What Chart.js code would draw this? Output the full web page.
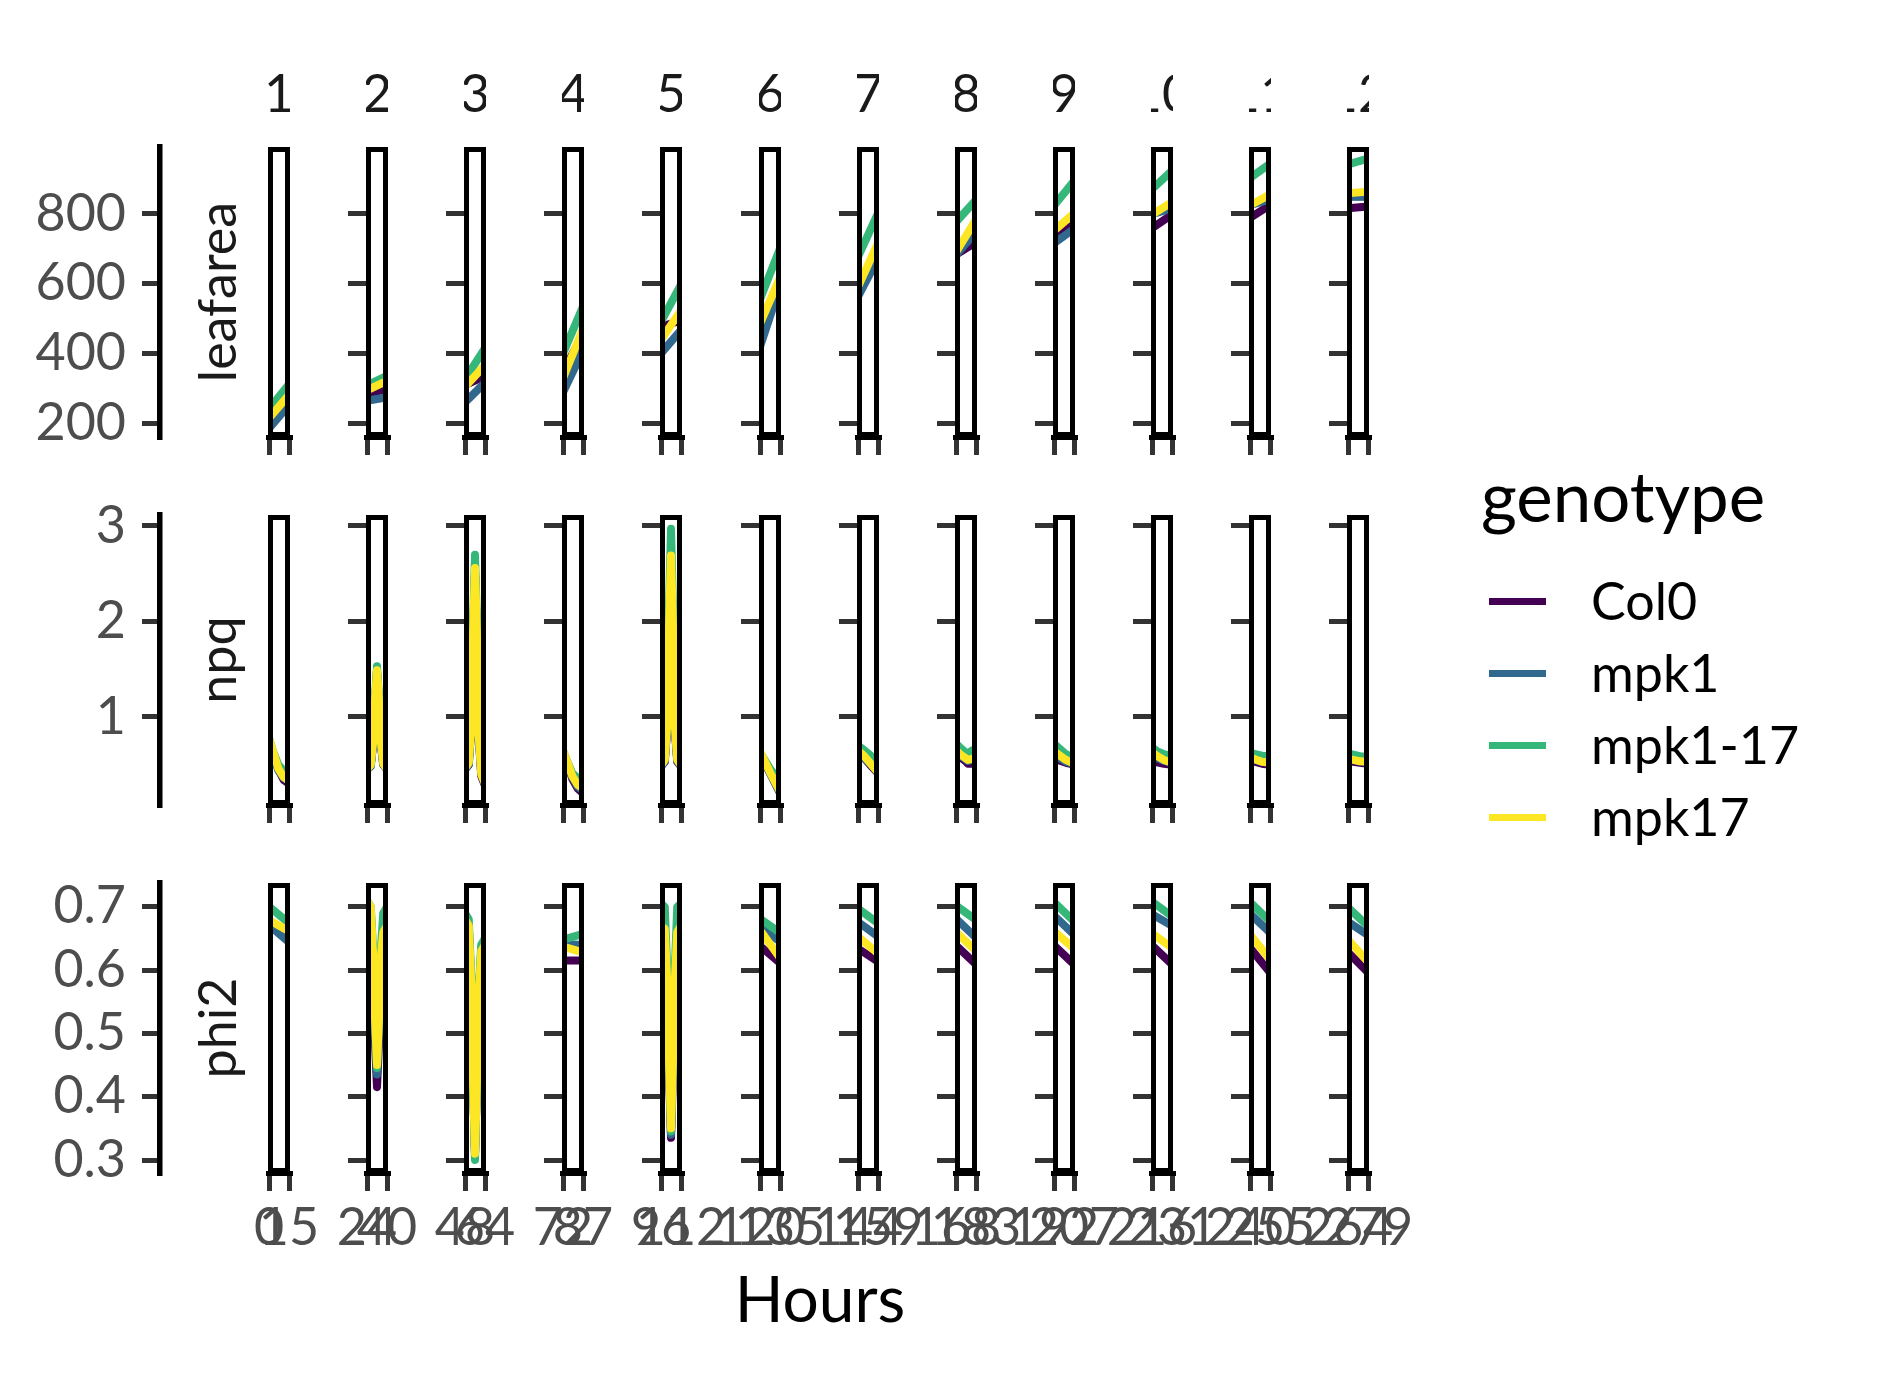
<!DOCTYPE html>
<html>
<head>
<meta charset="utf-8">
<title>leafarea / npq / phi2 by genotype</title>
<script src="https://cdn.jsdelivr.net/npm/chart.js@4.4.1/dist/chart.umd.min.js"></script>
<style>
  html, body { margin: 0; padding: 0; background: #ffffff; }
  #page { position: relative; width: 1881px; height: 1375px; overflow: hidden; font-family: Lato, sans-serif; }
  #page canvas { position: absolute; }
  .txt { position: absolute; white-space: nowrap; line-height: 1; }
  .strip { display: flex; justify-content: center; overflow: hidden; height: 52px; font-size: 52px; color: #1a1a1a; }
  .rowlab { width: 400px; height: 52px; font-size: 52px; text-align: center; color: #1a1a1a; transform: rotate(-90deg); }
  .key { position: absolute; width: 57px; height: 7px; }
</style>
</head>
<body>
<div id="page"></div>
<script>
const GENOTYPES = ['Col0', 'mpk1', 'mpk1-17', 'mpk17'];
const GENO_COLORS = ['#440154', '#31688E', '#35B779', '#FDE725'];
const DAYS = ['1', '2', '3', '4', '5', '6', '7', '8', '9', '10', '11', '12'];
const HOURS_START = [0, 24, 48, 72, 96, 120, 144, 168, 192, 216, 240, 264];
const HOURS_END = [15, 40, 64, 87, 112, 135, 159, 183, 207, 231, 255, 279];

const LEAFAREA_TICKS = [200, 400, 600, 800];
const NPQ_TICKS = [1, 2, 3];
const PHI2_TICKS = [0.3, 0.4, 0.5, 0.6, 0.7];

// leafarea: value at first and last hour of each day
const leafareaCol0 = [[210, 277], [282, 299], [309, 335], [348, 454], [477, 494], [477, 583], [579, 682], [683, 719], [738, 770], [759, 798], [789, 825], [816, 821]];
const leafareaMpk1 = [[185, 252], [264, 274], [259, 316], [288, 408], [400, 467], [419, 592], [563, 673], [682, 749], [716, 757], [799, 816], [825, 842], [849, 849]];
const leafareaMpk117 = [[241, 311], [309, 335], [326, 415], [400, 534], [491, 597], [555, 701], [677, 802], [777, 840], [824, 894], [871, 924], [903, 944], [942, 959]];
const leafareaMpk17 = [[214, 281], [294, 321], [304, 366], [329, 470], [439, 523], [485, 618], [591, 716], [690, 784], [752, 802], [798, 834], [825, 856], [859, 864]];

// npq: measurement hours per day
const npqHours = [
  [0, 3, 7, 11, 15],
  [24, 27, 29, 30.5, 32, 33.5, 35, 37, 40],
  [48, 51, 53, 54.5, 56, 57.5, 59, 61, 64],
  [72, 75, 79, 83, 87],
  [96, 99, 101, 102.5, 104, 105.5, 107, 109, 112],
  [120, 127.5, 135],
  [144, 148, 153, 159],
  [168, 171, 175, 177, 180, 183],
  [192, 196, 201, 207],
  [216, 220, 225, 231],
  [240, 244, 249, 255],
  [264, 268, 273, 279]
];
const npqCol0 = [
  [0.76, 0.62, 0.45, 0.34, 0.30],
  [0.45, 0.50, 0.72, 1.15, 1.45, 1.15, 0.72, 0.50, 0.45],
  [0.45, 0.50, 0.88, 1.85, 2.50, 1.85, 0.78, 0.38, 0.28],
  [0.63, 0.52, 0.35, 0.25, 0.20],
  [0.48, 0.53, 0.88, 1.95, 2.60, 1.95, 0.88, 0.53, 0.48],
  [0.62, 0.41, 0.21],
  [0.64, 0.58, 0.50, 0.41],
  [0.63, 0.58, 0.54, 0.51, 0.51, 0.52],
  [0.57, 0.545, 0.52, 0.50],
  [0.55, 0.525, 0.51, 0.50],
  [0.55, 0.53, 0.51, 0.50],
  [0.54, 0.53, 0.52, 0.51]
];
const npqMpk1 = [
  [0.75, 0.60, 0.44, 0.36, 0.33],
  [0.45, 0.48, 0.73, 1.17, 1.47, 1.17, 0.73, 0.50, 0.45],
  [0.45, 0.50, 0.88, 1.87, 2.53, 1.87, 0.80, 0.40, 0.30],
  [0.63, 0.52, 0.37, 0.27, 0.23],
  [0.48, 0.53, 0.90, 1.98, 2.64, 1.98, 0.90, 0.54, 0.48],
  [0.62, 0.41, 0.20],
  [0.64, 0.58, 0.51, 0.42],
  [0.64, 0.60, 0.56, 0.54, 0.55, 0.56],
  [0.60, 0.57, 0.53, 0.51],
  [0.60, 0.57, 0.54, 0.52],
  [0.57, 0.55, 0.53, 0.52],
  [0.56, 0.55, 0.535, 0.53]
];
const npqMpk117 = [
  [0.78, 0.64, 0.50, 0.44, 0.41],
  [0.46, 0.50, 0.78, 1.22, 1.53, 1.22, 0.78, 0.53, 0.47],
  [0.47, 0.54, 0.95, 2.00, 2.70, 2.00, 0.85, 0.44, 0.34],
  [0.65, 0.54, 0.41, 0.36, 0.34],
  [0.50, 0.58, 1.00, 2.20, 2.97, 2.20, 1.00, 0.58, 0.50],
  [0.63, 0.46, 0.32],
  [0.70, 0.66, 0.60, 0.53],
  [0.72, 0.68, 0.63, 0.62, 0.65, 0.66],
  [0.72, 0.67, 0.61, 0.57],
  [0.68, 0.64, 0.61, 0.59],
  [0.63, 0.61, 0.595, 0.585],
  [0.62, 0.605, 0.59, 0.58]
];
const npqMpk17 = [
  [0.78, 0.64, 0.46, 0.37, 0.33],
  [0.45, 0.50, 0.75, 1.20, 1.49, 1.20, 0.75, 0.51, 0.45],
  [0.46, 0.52, 0.90, 1.90, 2.56, 1.90, 0.80, 0.40, 0.30],
  [0.65, 0.54, 0.38, 0.29, 0.25],
  [0.49, 0.55, 0.92, 2.00, 2.69, 2.00, 0.92, 0.55, 0.49],
  [0.64, 0.42, 0.22],
  [0.65, 0.60, 0.52, 0.42],
  [0.65, 0.61, 0.57, 0.55, 0.56, 0.57],
  [0.64, 0.60, 0.55, 0.51],
  [0.63, 0.59, 0.55, 0.52],
  [0.58, 0.555, 0.53, 0.52],
  [0.56, 0.55, 0.535, 0.53]
];

// phi2: measurement hours per day
const phi2Hours = [
  [0, 15],
  [24, 27, 29, 30.5, 32, 33.5, 35, 37, 40],
  [48, 51, 53, 54.5, 56, 57.5, 59, 61, 64],
  [72, 87],
  [96, 99, 101, 102.5, 104, 105.5, 107, 109, 112],
  [120, 135], [144, 159], [168, 183], [192, 207], [216, 231], [240, 255], [264, 279]
];
const phi2Col0 = [
  [0.676, 0.658],
  [0.70, 0.69, 0.60, 0.48, 0.415, 0.48, 0.60, 0.64, 0.65],
  [0.67, 0.66, 0.57, 0.42, 0.31, 0.42, 0.55, 0.62, 0.63],
  [0.615, 0.615],
  [0.64, 0.63, 0.56, 0.43, 0.335, 0.43, 0.56, 0.63, 0.64],
  [0.638, 0.611], [0.634, 0.613], [0.639, 0.609], [0.639, 0.609], [0.639, 0.609], [0.635, 0.596], [0.628, 0.596]
];
const phi2Mpk1 = [
  [0.671, 0.644],
  [0.70, 0.69, 0.61, 0.50, 0.435, 0.50, 0.61, 0.66, 0.67],
  [0.68, 0.67, 0.58, 0.42, 0.305, 0.42, 0.56, 0.63, 0.64],
  [0.64, 0.64],
  [0.68, 0.67, 0.58, 0.45, 0.34, 0.45, 0.58, 0.67, 0.68],
  [0.667, 0.645], [0.676, 0.653], [0.681, 0.651], [0.686, 0.656], [0.688, 0.670], [0.689, 0.659], [0.676, 0.655]
];
const phi2Mpk117 = [
  [0.700, 0.674],
  [0.71, 0.70, 0.63, 0.53, 0.445, 0.53, 0.63, 0.69, 0.70],
  [0.69, 0.68, 0.59, 0.42, 0.30, 0.42, 0.57, 0.64, 0.65],
  [0.648, 0.657],
  [0.705, 0.70, 0.60, 0.46, 0.345, 0.46, 0.60, 0.70, 0.705],
  [0.681, 0.659], [0.697, 0.674], [0.702, 0.679], [0.707, 0.677], [0.708, 0.685], [0.707, 0.677], [0.699, 0.669]
];
const phi2Mpk17 = [
  [0.679, 0.661],
  [0.71, 0.70, 0.62, 0.52, 0.45, 0.52, 0.62, 0.66, 0.67],
  [0.68, 0.67, 0.58, 0.42, 0.31, 0.42, 0.56, 0.63, 0.64],
  [0.637, 0.628],
  [0.67, 0.665, 0.58, 0.45, 0.35, 0.45, 0.58, 0.66, 0.67],
  [0.663, 0.619], [0.653, 0.626], [0.660, 0.630], [0.661, 0.634], [0.658, 0.635], [0.656, 0.617], [0.648, 0.613]
];

const ROWS = [
  { name: 'leafarea', hours: HOURS_START.map((h, d) => [h, HOURS_END[d]]),
    series: [leafareaCol0, leafareaMpk1, leafareaMpk117, leafareaMpk17],
    ticks: LEAFAREA_TICKS, min: 160, max: 992, fmt: v => String(v) },
  { name: 'npq', hours: npqHours,
    series: [npqCol0, npqMpk1, npqMpk117, npqMpk17],
    ticks: NPQ_TICKS, min: 0.078, max: 3.115, fmt: v => String(v) },
  { name: 'phi2', hours: phi2Hours,
    series: [phi2Col0, phi2Mpk1, phi2Mpk117, phi2Mpk17],
    ticks: PHI2_TICKS, min: 0.2795, max: 0.7374, fmt: v => v.toFixed(1) }
];

// layout
const page = document.getElementById('page');
const FONT = 'Lato';
const COL_X0 = 268, COL_STEP = 98.1, PANEL_W = 22, PANEL_H = 290;
const ROW_Y = [147, 515, 883];
const TICK_LEN = 18;
const LINE_W = 8;

const panelFrame = {
  id: 'panelFrame',
  afterDatasetsDraw(chart) {
    const a = chart.chartArea, ctx = chart.ctx;
    ctx.save();
    ctx.strokeStyle = '#000000';
    ctx.lineWidth = 5;
    ctx.strokeRect(a.left + 2.5, a.top + 2.5, a.width - 5, a.height - 5);
    ctx.restore();
  }
};

function fixedTicks(values) {
  return scale => { scale.ticks = values.map(v => ({ value: v })); };
}

function tickGrid() {
  return { drawOnChartArea: false, drawTicks: true, tickLength: TICK_LEN, tickWidth: 5, lineWidth: 5, color: '#333333', tickColor: '#333333' };
}

function colLeft(d) { return Math.round(COL_X0 + COL_STEP * d); }

function addText(text, cls, left, top, extra) {
  const el = document.createElement('div');
  el.className = 'txt ' + cls;
  el.textContent = text;
  el.style.left = left + 'px';
  el.style.top = top + 'px';
  if (extra) Object.assign(el.style, extra);
  page.appendChild(el);
  return el;
}

function drawPanel(r, d) {
  const row = ROWS[r];
  const left = colLeft(d), top = ROW_Y[r];
  const bottomRow = r === ROWS.length - 1;
  const firstCol = d === 0;
  const padX = 50, padTop = 10;
  const below = bottomRow ? 110 : 30;
  const xAxisH = bottomRow ? 90 : TICK_LEN;
  const cv = document.createElement('canvas');
  cv.width = PANEL_W + 2 * padX;
  cv.height = padTop + PANEL_H + below;
  cv.style.left = (left - padX) + 'px';
  cv.style.top = (top - padTop) + 'px';
  page.appendChild(cv);

  const lo = HOURS_START[d], hi = HOURS_END[d], span = hi - lo;
  const hours = row.hours[d];
  new Chart(cv, {
    type: 'line',
    data: {
      datasets: GENOTYPES.map((g, k) => ({
        label: g,
        order: GENOTYPES.length - k, // later genotypes on top, as in the original
        data: hours.map((h, j) => ({ x: h, y: row.series[k][d][j] })),
        borderColor: GENO_COLORS[k],
        borderWidth: LINE_W,
        borderJoinStyle: 'round',
        pointRadius: 0,
        tension: 0,
        fill: false,
        clip: 0
      }))
    },
    options: {
      responsive: false,
      animation: false,
      devicePixelRatio: 1,
      layout: { padding: { left: padX - TICK_LEN, right: padX, top: padTop, bottom: below - xAxisH } },
      plugins: { legend: { display: false }, tooltip: { enabled: false } },
      scales: {
        x: {
          type: 'linear', bounds: 'data',
          min: lo - 0.05 * span, max: hi + 0.05 * span,
          afterBuildTicks: fixedTicks([lo, hi]),
          afterFit: s => { s.height = xAxisH; s.paddingLeft = 0; s.paddingRight = 0; },
          grid: tickGrid(),
          border: { display: true, color: '#000000', width: 5 },
          ticks: {
            display: bottomRow, autoSkip: false, maxRotation: 0, minRotation: 0, padding: 6,
            color: '#4D4D4D', font: { family: FONT, size: 52 }, callback: v => String(v)
          }
        },
        y: {
          type: 'linear', bounds: 'data',
          min: row.min, max: row.max,
          afterBuildTicks: fixedTicks(row.ticks),
          afterFit: s => { s.width = TICK_LEN; s.paddingTop = 0; s.paddingBottom = 0; },
          grid: firstCol ? { display: false } : tickGrid(),
          border: { display: false },
          ticks: { display: false }
        }
      }
    },
    plugins: [panelFrame]
  });
}

function drawRowAxis(r) {
  const row = ROWS[r];
  const cv = document.createElement('canvas');
  cv.width = 210;
  cv.height = PANEL_H + 80;
  cv.style.left = '0px';
  cv.style.top = (ROW_Y[r] - 40) + 'px';
  page.appendChild(cv);
  new Chart(cv, {
    type: 'line',
    data: { datasets: [] },
    options: {
      responsive: false,
      animation: false,
      devicePixelRatio: 1,
      layout: { padding: { left: 0, right: 40, top: 40, bottom: 40 } },
      plugins: { legend: { display: false }, tooltip: { enabled: false } },
      scales: {
        x: { type: 'linear', display: false, min: 0, max: 1 },
        y: {
          type: 'linear', bounds: 'data', min: row.min, max: row.max,
          afterBuildTicks: fixedTicks(row.ticks),
          afterFit: s => { s.width = 160; s.paddingTop = 0; s.paddingBottom = 0; },
          grid: tickGrid(),
          border: { display: true, color: '#000000', width: 5.5 },
          ticks: { padding: 16, color: '#4D4D4D', font: { family: FONT, size: 52 }, callback: row.fmt }
        }
      }
    }
  });
  // row strip, placed outside between axis and panels
  addText(row.name, 'rowlab', 216 - 200, ROW_Y[r] + PANEL_H / 2 - 26);
}

ROWS.forEach((row, r) => {
  drawRowAxis(r);
  DAYS.forEach((day, d) => drawPanel(r, d));
});

// column strips (text clipped to the narrow strip, as in the original)
DAYS.forEach((day, d) => {
  addText(day, 'strip', colLeft(d), 66, { width: PANEL_W + 'px' });
});

// x axis title
addText('Hours', '', 620, 1266, { width: '400px', textAlign: 'center', fontSize: '64px', color: '#000000' });

// legend
addText('genotype', '', 1481, 461, { fontSize: '69px', color: '#000000' });
const KEY_Y = [601, 673, 745, 817];
GENOTYPES.forEach((g, k) => {
  const key = document.createElement('div');
  key.className = 'key';
  key.style.left = '1489px';
  key.style.top = (KEY_Y[k] - 3.5) + 'px';
  key.style.background = GENO_COLORS[k];
  page.appendChild(key);
  addText(g, '', 1591, KEY_Y[k] - 27, { fontSize: '52px', color: '#000000' });
});
</script>
</body>
</html>
